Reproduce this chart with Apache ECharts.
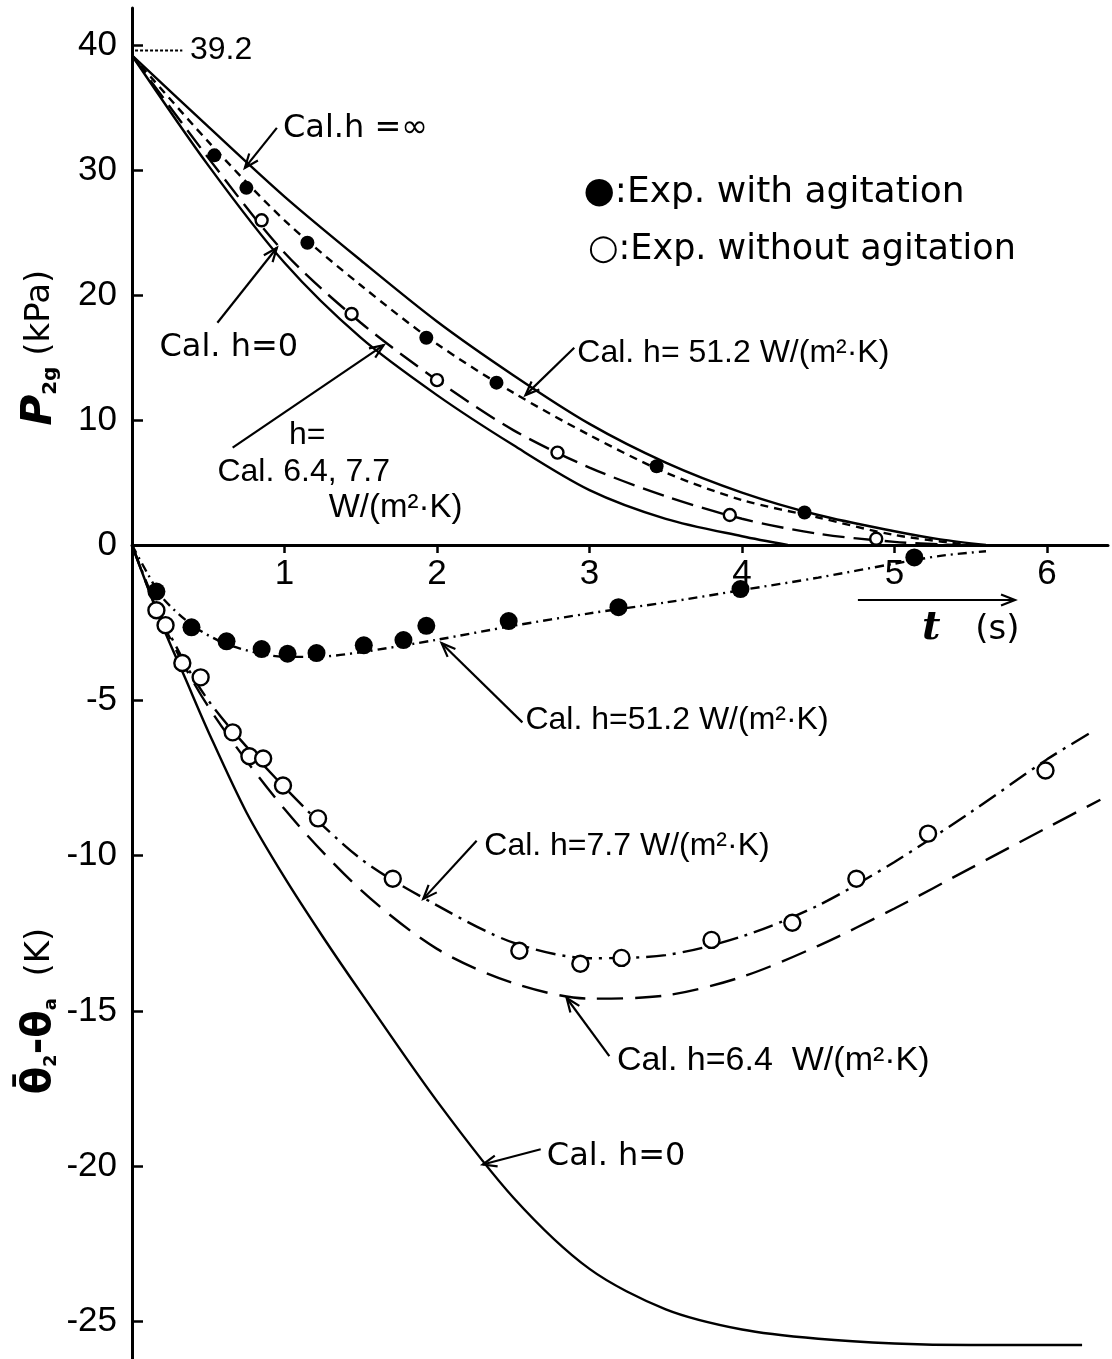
<!DOCTYPE html>
<html><head><meta charset="utf-8">
<script src="https://cdn.jsdelivr.net/npm/echarts@6/dist/echarts.min.js"></script>
<style>html,body{margin:0;padding:0;background:#fff}#c{width:1112px;height:1359px}</style>
</head><body><div id="c"></div>
<script>
// ---------- DATA ----------
// Upper part: pressure P2g (kPa) vs t (s)
const calTopHinf = [[0,39.2],[0.5,33.5],[1.0,27.9],[1.5,22.8],[2.0,17.9],[2.5,13.6],[3.0,9.7],[3.5,6.6],[4.0,4.2],[4.5,2.4],[5.0,1.1],[5.3,0.45],[5.6,0]];
const calTopH512 = [[0,39.2],[0.5,32.3],[1.0,26.0],[1.5,20.8],[2.0,16.1],[2.5,12.2],[3.0,8.8],[3.5,5.8],[4.0,3.6],[4.5,2.2],[5.0,0.8],[5.5,0]];
const calTopH64 = [[0,39.2],[0.5,31.0],[1.0,23.4],[1.5,17.8],[2.0,13.2],[2.5,9.2],[3.0,6.2],[3.5,3.9],[4.0,2.1],[4.5,0.9],[5.0,0.25],[5.4,0]];
const calTopH0 = [[0,39.2],[0.5,30.4],[1.0,22.6],[1.5,16.6],[2.0,12.0],[2.5,8.0],[3.0,4.4],[3.5,2.1],[4.0,0.7],[4.3,0]];
const expTopAgit = [[0.54,31.2],[0.75,28.6],[1.15,24.2],[1.93,16.6],[2.39,13.0],[3.44,6.3],[4.41,2.6]];
const expTopNoAgit = [[0.85,26.0],[1.44,18.5],[2.0,13.2],[2.79,7.4],[3.92,2.4],[4.88,0.5]];
// Lower part: temperature difference (K) vs t (s)
const calBotH512 = [[0,0],[0.1,-0.9],[0.2,-1.7],[0.4,-2.6],[0.6,-3.15],[0.8,-3.45],[1.0,-3.6],[1.2,-3.6],[1.5,-3.45],[2.0,-3.05],[2.5,-2.6],[3.0,-2.2],[3.5,-1.85],[4.0,-1.45],[4.5,-1.05],[5.0,-0.6],[5.3,-0.35],[5.6,-0.2]];
const calBotH77 = [[0,0],[0.2,-2.4],[0.5,-5.0],[1.0,-7.8],[1.5,-10.1],[2.0,-11.6],[2.5,-12.8],[3.0,-13.3],[3.5,-13.2],[4.0,-12.6],[4.5,-11.6],[5.0,-10.2],[5.5,-8.6],[6.0,-6.9],[6.3,-6.0]];
const calBotH64 = [[0,0],[0.2,-2.5],[0.5,-5.2],[1.0,-8.5],[1.5,-11.1],[2.0,-13.0],[2.5,-14.1],[3.0,-14.6],[3.5,-14.5],[4.0,-13.9],[4.5,-12.9],[5.0,-11.7],[5.5,-10.4],[6.0,-9.1],[6.35,-8.2]];
const calBotH0 = [[0,0],[0.2,-2.6],[0.35,-4.3],[0.5,-6.0],[0.75,-8.6],[1.0,-10.7],[1.25,-12.6],[1.5,-14.4],[2.0,-17.9],[2.5,-21.0],[3.0,-23.3],[3.5,-24.6],[4.0,-25.25],[4.5,-25.55],[5.0,-25.7],[5.5,-25.75],[6.23,-25.75]];
const expBotAgit = [[0.16,-1.5],[0.39,-2.65],[0.62,-3.1],[0.85,-3.35],[1.02,-3.5],[1.21,-3.48],[1.52,-3.23],[1.78,-3.06],[1.93,-2.6],[2.47,-2.45],[3.19,-2.0],[3.99,-1.42],[5.13,-0.4]];
const expBotNoAgit = [[0.16,-2.1],[0.22,-2.58],[0.33,-3.8],[0.45,-4.26],[0.66,-6.03],[0.77,-6.8],[0.86,-6.87],[0.99,-7.74],[1.22,-8.8],[1.71,-10.74],[2.54,-13.06],[2.94,-13.48],[3.21,-13.29],[3.8,-12.71],[4.33,-12.16],[4.75,-10.74],[5.22,-9.29],[5.99,-7.26]];
// Tick labels
const xTicks = [1,2,3,4,5,6];
const yTopTicks = [0,10,20,30,40];
const yBotTicks = [-5,-10,-15,-20,-25];
const initialPressure = 39.2;

// Annotations (anchored in data coordinates of a grid)
const labels = [
  {g:0,t:0.99,v:33.3,text:'Cal.h =∞',f:'DejaVu Sans',s:32},
  {g:0,t:2.96,v:28.2,text:'●:Exp. with agitation',f:'DejaVu Sans',s:36},
  {g:0,t:2.99,v:23.6,text:'○:Exp. without agitation',f:'DejaVu Sans',s:35},
  {g:0,t:0.18,v:15.8,text:'Cal. h=0',f:'DejaVu Sans',s:32},
  {g:0,t:1.03,v:8.8,text:'h=',f:'Liberation Sans',s:32},
  {g:0,t:0.56,v:5.8,text:'Cal. 6.4, 7.7',f:'Liberation Sans',s:32},
  {g:0,t:1.29,v:3.0,text:'W/(m²·K)',f:'Liberation Sans',s:33},
  {g:0,t:2.92,v:15.4,text:'Cal. h= 51.2 W/(m²·K)',f:'Liberation Sans',s:32},
  {g:0,t:0.38,v:39.6,text:'39.2',f:'Liberation Sans',s:32},
  {g:1,t:2.58,v:-5.65,text:'Cal. h=51.2 W/(m²·K)',f:'Liberation Sans',s:32},
  {g:1,t:2.31,v:-9.68,text:'Cal. h=7.7 W/(m²·K)',f:'Liberation Sans',s:32},
  {g:1,t:3.18,v:-16.6,text:'Cal. h=6.4  W/(m²·K)',f:'Liberation Sans',s:34},
  {g:1,t:2.72,v:-19.68,text:'Cal. h=0',f:'DejaVu Sans',s:32},
  {g:1,t:5.18,v:-2.7,text:'t',f:'DejaVu Serif',s:40,bold:true,italic:true},
  {g:1,t:5.53,v:-2.75,text:'(s)',f:'DejaVu Sans',s:34}
];
const arrows = [
  {g:0,t0:0.95,v0:33.4,t1:0.74,v1:30.2},
  {g:0,t0:0.56,v0:17.8,t1:0.95,v1:23.8},
  {g:0,t0:0.66,v0:7.8,t1:1.65,v1:16.0},
  {g:0,t0:2.9,v0:15.8,t1:2.58,v1:12.0},
  {g:1,t0:2.56,v0:-5.71,t1:2.03,v1:-3.16},
  {g:1,t0:2.26,v0:-9.52,t1:1.91,v1:-11.39},
  {g:1,t0:3.13,v0:-16.45,t1:2.85,v1:-14.58},
  {g:1,t0:2.68,v0:-19.45,t1:2.3,v1:-19.94},
  {g:1,t0:4.76,v0:-1.77,t1:5.79,v1:-1.77}
];

// ---------- CHART ----------
const chart = echarts.init(document.getElementById('c'), null, {renderer:'canvas'});
const TF = 'Liberation Sans';
const black = '#000';
function lineSeries(name, data, xi, dash){
  return {name, type:'line', xAxisIndex:xi, yAxisIndex:xi, data, showSymbol:false, symbol:'none',
    smooth:0.3, clip:false,
    lineStyle:{color:black, width:2.4, type:dash}, z:2};
}
function pointSeries(name, data, xi, filled, size){
  return {name, type:'scatter', xAxisIndex:xi, yAxisIndex:xi, data, symbol:'circle', symbolSize:size,
    itemStyle:{color: filled?black:'#fff', borderColor:black, borderWidth: filled?0:2.4, opacity:1}, z:5};
}
const yAxisCommon = {
  type:'value',
  axisLine:{show:true, onZero:false, lineStyle:{color:black, width:3}},
  axisTick:{show:true, inside:true, length:11, lineStyle:{color:black, width:2.5}},
  axisLabel:{show:true, color:black, fontSize:35, fontFamily:TF, margin:15},
  splitLine:{show:false}
};
const option = {
  backgroundColor:'#fff',
  animation:false,
  grid:[
    {left:132, top:8, width:976, height:537},
    {left:132, top:545, width:976, height:820}
  ],
  xAxis:[
    {gridIndex:0, type:'value', min:0, max:6.4,
     axisLine:{show:true, onZero:false, lineStyle:{color:black, width:3}},
     axisTick:{show:true, inside:false, length:8, customValues:xTicks, lineStyle:{color:black, width:2.5}},
     axisLabel:{show:true, customValues:xTicks, color:black, fontSize:35, fontFamily:TF, margin:12},
     splitLine:{show:false}},
    {gridIndex:1, type:'value', min:0, max:6.4, show:false}
  ],
  yAxis:[
    Object.assign({}, yAxisCommon, {gridIndex:0, min:0, max:43,
      axisTick:Object.assign({}, yAxisCommon.axisTick, {customValues:yTopTicks}),
      axisLabel:Object.assign({}, yAxisCommon.axisLabel, {customValues:yTopTicks})}),
    Object.assign({}, yAxisCommon, {gridIndex:1, min:-26.2, max:0,
      axisTick:Object.assign({}, yAxisCommon.axisTick, {customValues:yBotTicks}),
      axisLabel:Object.assign({}, yAxisCommon.axisLabel, {customValues:yBotTicks})})
  ],
  series:[
    lineSeries('Cal. h=∞', calTopHinf, 0, 'solid'),
    lineSeries('Cal. h=51.2', calTopH512, 0, [8,6]),
    lineSeries('Cal. h=6.4, 7.7', calTopH64, 0, [22,9]),
    lineSeries('Cal. h=0', calTopH0, 0, 'solid'),
    pointSeries('Exp. with agitation (P)', expTopAgit, 0, true, 14),
    pointSeries('Exp. without agitation (P)', expTopNoAgit, 0, false, 12),
    lineSeries('Cal. h=51.2 (θ)', calBotH512, 1, [9,5,2,5]),
    lineSeries('Cal. h=7.7 (θ)', calBotH77, 1, [20,7,3,7]),
    lineSeries('Cal. h=6.4 (θ)', calBotH64, 1, [26,12]),
    lineSeries('Cal. h=0 (θ)', calBotH0, 1, 'solid'),
    pointSeries('Exp. with agitation (θ)', expBotAgit, 1, true, 18),
    pointSeries('Exp. without agitation (θ)', expBotNoAgit, 1, false, 16)
  ]
};
chart.setOption(option);

// ---------- ANNOTATIONS ----------
function P(g,t,v){ return chart.convertToPixel({gridIndex:g},[t,v]); }
const gr = [];
labels.forEach(l=>{
  const p = P(l.g,l.t,l.v);
  gr.push({type:'text', x:p[0], y:p[1], z:100, silent:true,
    style:{text:l.text, fontFamily:l.f, fontSize:l.s, fontWeight:l.bold?'bold':'normal',
      fontStyle:l.italic?'italic':'normal', fill:black, align:'left', verticalAlign:'middle'}});
});
function arrowGraphic(p0,p1){
  const dx=p1[0]-p0[0], dy=p1[1]-p0[1], L=Math.hypot(dx,dy), ux=dx/L, uy=dy/L;
  const hl=15, a=0.38;
  const b1=[p1[0]-hl*(ux*Math.cos(a)-uy*Math.sin(a)), p1[1]-hl*(uy*Math.cos(a)+ux*Math.sin(a))];
  const b2=[p1[0]-hl*(ux*Math.cos(-a)-uy*Math.sin(-a)), p1[1]-hl*(uy*Math.cos(-a)+ux*Math.sin(-a))];
  return [
    {type:'line', z:100, silent:true, shape:{x1:p0[0],y1:p0[1],x2:p1[0],y2:p1[1]}, style:{stroke:black, lineWidth:2.2}},
    {type:'polyline', z:100, silent:true, shape:{points:[b1,p1,b2]}, style:{stroke:black, lineWidth:2.2, fill:null}}
  ];
}
arrows.forEach(a=>{ gr.push(...arrowGraphic(P(a.g,a.t0,a.v0), P(a.g,a.t1,a.v1))); });
// dotted guide for initial pressure 39.2
const d0 = P(0,0.02,initialPressure+0.4), d1 = P(0,0.33,initialPressure+0.4);
gr.push({type:'line', z:100, silent:true, shape:{x1:d0[0],y1:d0[1],x2:d1[0],y2:d1[1]}, style:{stroke:black, lineWidth:2, lineDash:[3,2]}});
// rotated axis titles
const tTop = P(0,0,15.8), tBot = P(1,0,-15.0);
gr.push({type:'text', x:40, y:tTop[1], rotation:Math.PI/2, z:100, silent:true,
  style:{text:'{p|P}{s|2g}{n| (kPa)}', align:'center', verticalAlign:'middle', fill:black,
    rich:{p:{fontFamily:'DejaVu Sans', fontSize:42, fontWeight:'bold', fontStyle:'italic'},
          s:{fontFamily:'DejaVu Sans', fontSize:20, fontWeight:'bold', padding:[22,0,0,0]},
          n:{fontFamily:'DejaVu Sans', fontSize:34}}}});
gr.push({type:'text', x:40, y:tBot[1], rotation:Math.PI/2, z:100, silent:true,
  style:{text:'{p|θ̄}{s|2}{p|-θ}{s|a}{n|  (K)}', align:'center', verticalAlign:'middle', fill:black,
    rich:{p:{fontFamily:'DejaVu Sans', fontSize:40, fontWeight:'bold'},
          s:{fontFamily:'DejaVu Sans', fontSize:18, fontWeight:'bold', padding:[22,0,0,0]},
          n:{fontFamily:'DejaVu Sans', fontSize:34}}}});
chart.setOption({graphic:gr});
</script>
</body></html>
